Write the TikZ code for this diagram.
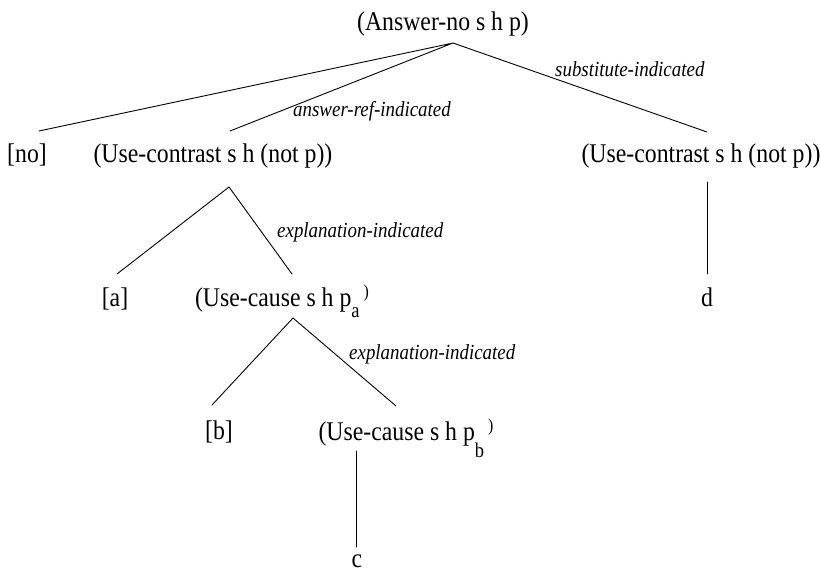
\documentclass[tikz,border=0pt]{standalone}
\usepackage{fontspec}
\setmainfont{Liberation Serif}[FakeStretch=0.88]
\usetikzlibrary{calc}
% lowered subscript and small raised closing parenthesis
\newcommand\lowsub[2]{\raisebox{-#1}{\fontsize{21bp}{21bp}\selectfont #2}}
\newcommand\smallclose{\hspace{4bp}\raisebox{9bp}{\fontsize{18bp}{18bp}\selectfont )}}
\begin{document}
\begin{tikzpicture}[x=1bp,y=-1bp]
\tikzset{
  term/.style={inner sep=0pt, anchor=base, font=\fontsize{27bp}{32bp}\selectfont},
  rel/.style={inner sep=0pt, anchor=base west, font=\fontsize{21.5bp}{25bp}\selectfont\itshape},
  branch/.style={line width=0.9bp, line cap=round}
}
\useasboundingbox (0,0) rectangle (821,571);

% plan steps
\node[term] (root) at (443,31) {(Answer-no s h p)};
\node[term] (no)   at (27,163) {[no]};
\node[term] (ucl)  at (213,163) {(Use-contrast s h (not p))};
\node[term] (ucr)  at (701,163) {(Use-contrast s h (not p))};
\node[term] (a)    at (115,306) {[a]};
\node[term] (uca)  at (282,306) {(Use-cause s h p\lowsub{11bp}{a}\smallclose};
\node[term] (d)    at (707,306) {d};
\node[term] (b)    at (219,439) {[b]};
\node[term] (ucb)  at (406,440) {(Use-cause s h p\lowsub{17bp}{b}\smallclose};
\node[term] (c)    at (357,567) {c};

% attachment points of the branches
\coordinate (root-s) at (453,43);
\coordinate (no-n)   at (39,131);
\coordinate (ucl-n)  at (230,131);
\coordinate (ucr-n)  at (707,132);
\coordinate (ucl-s)  at (229,187);
\coordinate (a-n)    at (117,274);
\coordinate (uca-n)  at (292,274);
\coordinate (ucr-s)  at (707,182);
\coordinate (d-n)    at (707,274);
\coordinate (uca-s)  at (293,318);
\coordinate (b-n)    at (212,405);
\coordinate (ucb-n)  at (396,406);
\coordinate (ucb-s)  at (356,451);
\coordinate (c-n)    at (356,547);

% branches
\draw[branch] (no-n) -- (root-s) -- (ucl-n);
\draw[branch] (root-s) -- (ucr-n);
\draw[branch] (a-n) -- (ucl-s) -- (uca-n);
\draw[branch] (ucr-s) -- (d-n);
\draw[branch] (b-n) -- (uca-s) -- (ucb-n);
\draw[branch] (ucb-s) -- (c-n);

% relation labels
\node[rel] (rel1) at (293,117) {answer-ref-indicated};
\node[rel] (rel2) at (555,77)  {substitute-indicated};
\node[rel] (rel3) at (277,238) {explanation-indicated};
\node[rel] (rel4) at (349,359) {explanation-indicated};
\end{tikzpicture}
\end{document}
